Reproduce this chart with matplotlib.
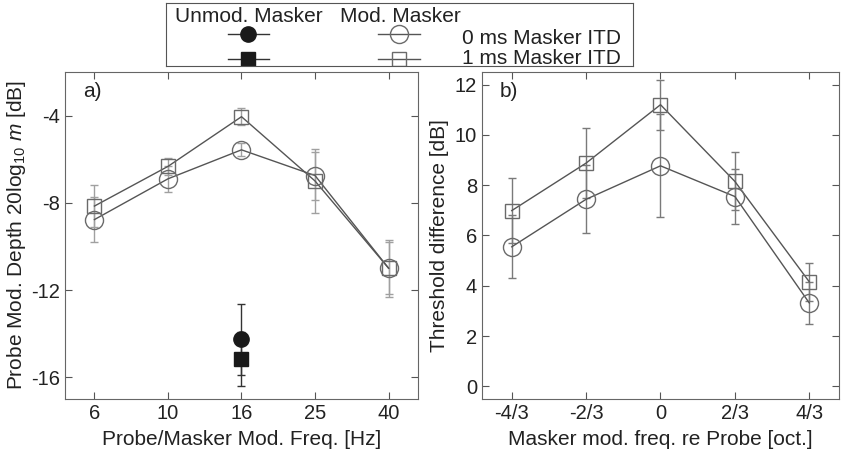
import numpy as np
import matplotlib
matplotlib.use("Agg")
import matplotlib.pyplot as plt
from matplotlib.lines import Line2D

plt.rcParams['font.family'] = ['Liberation Sans', 'DejaVu Sans']
plt.rcParams['mathtext.fontset'] = 'custom'
plt.rcParams['mathtext.rm'] = 'Liberation Sans'
plt.rcParams['mathtext.it'] = 'Liberation Sans:italic'
plt.rcParams['axes.unicode_minus'] = False

# panel a) data
freq_labels = ['6', '10', '16', '25', '40']
mod0_a = [-8.77, -6.9, -5.57, -6.75, -11.0]
mod0_a_err = [1.05, 0.6, 0.3, 1.1, 1.3]
mod1_a = [-8.15, -6.33, -4.05, -7.0, -11.0]
mod1_a_err = [0.95, 0.4, 0.4, 1.45, 1.2]
unmod_pos = 3  # 16 Hz
unmod0 = -14.27
unmod0_err = 1.65
unmod1 = -15.17
unmod1_err = 1.25

# panel b) data
oct_labels = ['-4/3', '-2/3', '0', '2/3', '4/3']
mod0_b = [5.55, 7.44, 8.77, 7.55, 3.32]
mod0_b_err = [1.25, 1.35, 2.05, 1.1, 0.85]
mod1_b = [6.99, 8.88, 11.2, 8.15, 4.16]
mod1_b_err = [1.3, 1.4, 1.0, 1.15, 0.75]

line_c = '#555555'
mk_c = '#6a6a6a'
txt_c = '#222222'
FS = 15
TFS = 14.5

fig = plt.figure(figsize=(8.41, 4.55), dpi=100)
W, H = 841, 455
axa = fig.add_axes([65 / W, 1 - 399 / H, 353 / W, 327 / H])
axb = fig.add_axes([482 / W, 1 - 399 / H, 357 / W, 327 / H])

x = np.arange(1, 6)


def draw(ax, y0, e0, y1, e1, ecol):
    ax.errorbar(x, y1, yerr=e1, fmt='none', ecolor=ecol, elinewidth=1.0, capsize=3, capthick=1.0)
    ax.errorbar(x, y0, yerr=e0, fmt='none', ecolor=ecol, elinewidth=1.0, capsize=3, capthick=1.0)
    ax.plot(x, y1, '-', color=line_c, lw=1.0)
    ax.plot(x, y0, '-', color=line_c, lw=1.0)
    ax.plot(x, y1, 's', ms=10, mfc='none', mec=mk_c, mew=1.0)
    ax.plot(x, y0, 'o', ms=13, mfc='none', mec=mk_c, mew=1.0)


draw(axa, mod0_a, mod0_a_err, mod1_a, mod1_a_err, '#a0a0a0')
axa.errorbar([unmod_pos], [unmod0], yerr=[unmod0_err], fmt='o', color='#1a1a1a', ms=11,
             ecolor='#333333', elinewidth=1.0, capsize=3)
axa.errorbar([unmod_pos], [unmod1], yerr=[unmod1_err], fmt='s', color='#1a1a1a', ms=9.5,
             ecolor='#333333', elinewidth=1.0, capsize=3)
axa.set_xlim(0.6, 5.4)
axa.set_ylim(-17, -2)
axa.set_yticks([-16, -12, -8, -4])
axa.set_xticks(x)
axa.set_xticklabels(freq_labels)
axa.set_xlabel('Probe/Masker Mod. Freq. [Hz]', fontsize=FS, color=txt_c, labelpad=5)
axa.set_ylabel('Probe Mod. Depth 20log$_{10}$ $m$ [dB]', fontsize=FS, color=txt_c, labelpad=2)
axa.text(0.05, 0.97, 'a)', transform=axa.transAxes, fontsize=FS, va='top', color=txt_c)

draw(axb, mod0_b, mod0_b_err, mod1_b, mod1_b_err, '#7a7a7a')
axb.set_xlim(0.6, 5.4)
axb.set_ylim(-0.5, 12.5)
axb.set_yticks([0, 2, 4, 6, 8, 10, 12])
axb.set_xticks(x)
axb.set_xticklabels(oct_labels)
axb.set_xlabel('Masker mod. freq. re Probe [oct.]', fontsize=FS, color=txt_c, labelpad=5)
axb.set_ylabel('Threshold difference [dB]', fontsize=FS, color=txt_c, labelpad=4)
axb.text(0.05, 0.97, 'b)', transform=axb.transAxes, fontsize=FS, va='top', color=txt_c)

for ax in (axa, axb):
    ax.tick_params(direction='in', top=True, right=True, labelsize=TFS, length=5,
                   colors='#555555', labelcolor=txt_c)
    for s in ax.spines.values():
        s.set_color('#666666')

# legend box
lg = fig.add_axes([166 / W, 1 - 66 / H, 467 / W, 63 / H])
lg.set_xlim(0, 467)
lg.set_ylim(63, 0)
lg.set_xticks([])
lg.set_yticks([])
for s in lg.spines.values():
    s.set_color('#555555')
lg.text(9, 13, 'Unmod. Masker', fontsize=FS, va='center', color=txt_c)
lg.text(174, 13, 'Mod. Masker', fontsize=FS, va='center', color=txt_c)
lg.add_line(Line2D([62, 103], [31, 31], color='#333333', lw=1))
lg.add_line(Line2D([82], [31], marker='o', ms=11, color='#1a1a1a'))
lg.add_line(Line2D([62, 103], [56, 56], color='#333333', lw=1))
lg.add_line(Line2D([82], [56], marker='s', ms=9.5, color='#1a1a1a'))
lg.add_line(Line2D([212, 254], [31, 31], color=line_c, lw=1))
lg.add_line(Line2D([233], [31], marker='o', ms=13, mfc='none', mec=mk_c))
lg.add_line(Line2D([212, 254], [56, 56], color=line_c, lw=1))
lg.add_line(Line2D([233], [56], marker='s', ms=10, mfc='none', mec=mk_c))
lg.text(296, 35, '0 ms Masker ITD', fontsize=FS, va='center', color=txt_c)
lg.text(296, 55, '1 ms Masker ITD', fontsize=FS, va='center', color=txt_c)

fig.savefig('out.png', dpi=100)
